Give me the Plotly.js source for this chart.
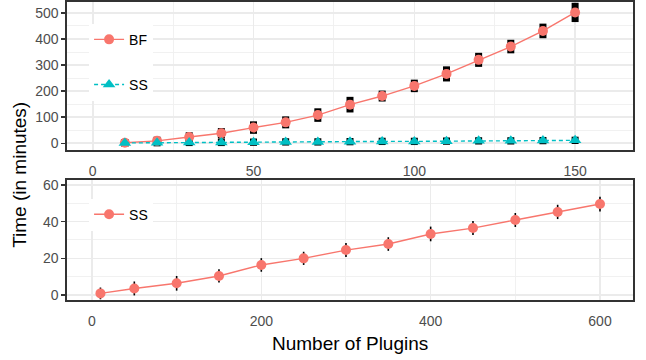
<!DOCTYPE html>
<html>
<head>
<meta charset="utf-8">
<script src="https://cdn.plot.ly/plotly-3.0.1.min.js"></script>
<style>html,body{margin:0;padding:0;background:#fff;}#chart{width:646px;height:360px;}</style>
</head>
<body>
<div id="chart"></div>
<script>
// Top panel: plugins 10..150
const topPlugins = [10, 20, 30, 40, 50, 60, 70, 80, 90, 100, 110, 120, 130, 140, 150];
const bfTime = [2, 9, 24, 38, 60, 80, 108, 148, 181, 220, 266, 320, 371, 431, 502];
const bfErr = [14, 16, 18, 20, 24, 23, 26, 30, 21, 24, 29, 27, 26, 28, 37];
const ssTopTime = [1, 2, 3, 3, 4, 5, 5, 6, 7, 7, 8, 9, 9, 10, 11];
const ssTopErr = [14, 14, 14, 14, 14, 14, 14, 14, 14, 14, 14, 14, 14, 14, 14];
// Bottom panel: plugins 10..600
const botPlugins = [10, 50, 100, 150, 200, 250, 300, 350, 400, 450, 500, 550, 600];
const ssBotTime = [0.9, 3.6, 6.4, 10.4, 16.4, 20.0, 24.5, 27.8, 33.3, 36.5, 40.9, 45.3, 49.6];
const ssBotErr = [3.2, 3.8, 4.0, 3.6, 3.7, 3.6, 3.8, 3.7, 4.0, 3.8, 3.8, 3.9, 4.0];

const topXTicks = [0, 50, 100, 150];
const topYTicks = [0, 100, 200, 300, 400, 500];
const botXTicks = [0, 200, 400, 600];
const botYTicks = [0, 20, 40, 60];

const red = '#F8766D', cyan = '#00BFC4';
const FONT = 'Liberation Sans, Arial, Helvetica, sans-serif';

function errTrace(x, y, err, xa, ya, thick) {
  return {
    x: x, y: y, type: 'scatter', mode: 'markers', showlegend: false, hoverinfo: 'skip',
    xaxis: xa, yaxis: ya, marker: {opacity: 0, size: 1},
    error_y: {type: 'data', array: err, visible: true, color: '#000', thickness: thick, width: 0}
  };
}

const traces = [
  errTrace(topPlugins, bfTime, bfErr, 'x', 'y', 7),
  errTrace(topPlugins, ssTopTime, ssTopErr, 'x', 'y', 7),
  errTrace(botPlugins, ssBotTime, ssBotErr, 'x2', 'y2', 1.6),
  {
    x: topPlugins, y: bfTime, name: 'BF', type: 'scatter', mode: 'lines+markers',
    xaxis: 'x', yaxis: 'y', legend: 'legend', legendgroup: 'bf',
    line: {color: red, width: 1.4},
    marker: {color: red, size: 10, symbol: 'circle'}
  },
  {
    x: topPlugins, y: ssTopTime, name: 'SS', type: 'scatter', mode: 'lines+markers',
    xaxis: 'x', yaxis: 'y', legend: 'legend', legendgroup: 'ss',
    line: {color: cyan, width: 1.4, dash: '4px,3px'},
    marker: {color: cyan, size: 11, symbol: 'triangle-up'}
  },
  {
    x: botPlugins, y: ssBotTime, name: 'SS', type: 'scatter', mode: 'lines+markers',
    xaxis: 'x2', yaxis: 'y2', legend: 'legend2',
    line: {color: red, width: 1.4},
    marker: {color: red, size: 10, symbol: 'circle'}
  }
];

const axisCommon = {
  showline: true, mirror: true, linecolor: '#333333', linewidth: 1.6,
  gridcolor: '#EBEBEB', gridwidth: 1.6, zeroline: false, automargin: false,
  tickfont: {family: FONT, size: 14, color: '#4D4D4D'}
};
const minorGrid = (vals) => ({showgrid: true, gridcolor: '#F0F0F0', gridwidth: 0.9, tickvals: vals});

const layout = {
  width: 646, height: 360,
  margin: {l: 67, r: 13, t: 2, b: 60},
  paper_bgcolor: '#fff', plot_bgcolor: '#fff',
  font: {family: FONT, size: 14, color: '#000'},
  xaxis: Object.assign({}, axisCommon, {
    domain: [0, 1], anchor: 'y', range: [-8, 168],
    tickmode: 'array', tickvals: topXTicks, ticktext: topXTicks.map(String),
    ticks: 'outside', ticklen: 8, tickcolor: 'rgba(0,0,0,0)',
    minor: minorGrid([25, 75, 125])
  }),
  yaxis: Object.assign({}, axisCommon, {
    domain: [0.5034, 1], anchor: 'x', range: [-26, 542],
    tickmode: 'array', tickvals: topYTicks, ticktext: topYTicks.map(String),
    ticks: 'outside', ticklen: 4, tickcolor: '#333333', tickwidth: 1.4,
    minor: minorGrid([50, 150, 250, 350, 450])
  }),
  xaxis2: Object.assign({}, axisCommon, {
    domain: [0, 1], anchor: 'y2', range: [-29.5, 639],
    tickmode: 'array', tickvals: botXTicks, ticktext: botXTicks.map(String),
    ticks: 'outside', ticklen: 8, tickcolor: 'rgba(0,0,0,0)',
    minor: minorGrid([100, 300, 500])
  }),
  yaxis2: Object.assign({}, axisCommon, {
    domain: [0, 0.4027], anchor: 'x2', range: [-2.7, 62.7],
    tickmode: 'array', tickvals: botYTicks, ticktext: botYTicks.map(String),
    ticks: 'outside', ticklen: 4, tickcolor: '#333333', tickwidth: 1.4,
    minor: minorGrid([10, 30, 50])
  }),
  legend: {
    x: 0.039, y: 0.927, xanchor: 'left', yanchor: 'top',
    bgcolor: '#fff', borderwidth: 0, tracegroupgap: 24, traceorder: 'grouped',
    font: {family: FONT, size: 14, color: '#000'}
  },
  legend2: {
    x: 0.039, y: 0.34, xanchor: 'left', yanchor: 'top',
    bgcolor: '#fff', borderwidth: 0,
    font: {family: FONT, size: 14, color: '#000'}
  },
  showlegend: true,
  annotations: [
    {text: 'Number of Plugins', xref: 'paper', yref: 'paper', x: 0.5, y: -0.145,
     xanchor: 'center', yanchor: 'middle', showarrow: false,
     font: {family: FONT, size: 19, color: '#000'}},
    {text: 'Time (in minutes)', xref: 'paper', yref: 'paper', x: -0.083, y: 0.42,
     xanchor: 'center', yanchor: 'middle', showarrow: false, textangle: -90,
     font: {family: FONT, size: 19, color: '#000'}}
  ]
};

Plotly.newPlot('chart', traces, layout, {staticPlot: true, displayModeBar: false});
</script>
</body>
</html>
